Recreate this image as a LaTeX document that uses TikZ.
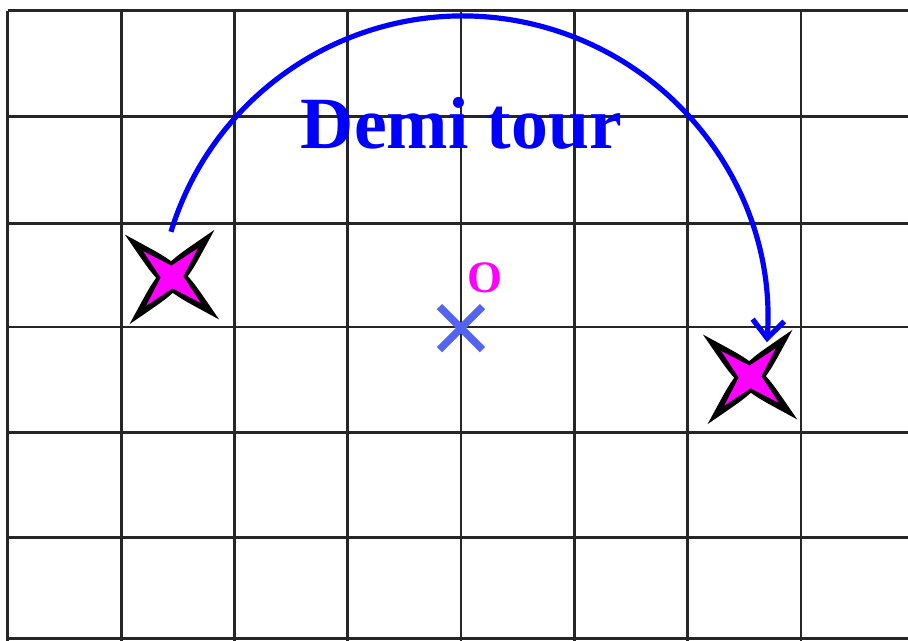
\documentclass[tikz,border=0pt]{standalone}
\usepackage{fontspec}
\setmainfont{Liberation Serif}
\usepackage{xcolor}
\usepackage{tikz}
\usetikzlibrary{arrows.meta}
\definecolor{bleuX}{RGB}{85,100,240}
\definecolor{rose}{RGB}{255,0,255}

\begin{document}
\begin{tikzpicture}[
        grille/.style={line width=0.7pt, black!85},
        fleche/.style={-{Straight Barb[length=1.6mm,width=2.8mm]}, line width=1.3pt, blue},
        croix/.style={line width=1.9pt, bleuX},
        titre/.style={font=\fontsize{18.5}{20}\selectfont\bfseries, text=blue, inner sep=0pt},
        lettre/.style={font=\fontsize{11.3}{12}\selectfont\bfseries, text=rose, inner sep=0pt},
        etoile/.pic={
            \fill[black, rotate=3] (45:0.56) .. controls (22:0.22) .. (0:0.14)
                .. controls (-22:0.22) .. (-45:0.56) .. controls (-68:0.22) .. (-90:0.14)
                .. controls (-112:0.22) .. (-135:0.56) .. controls (-158:0.22) .. (180:0.14)
                .. controls (158:0.22) .. (135:0.56) .. controls (112:0.22) .. (90:0.14)
                .. controls (68:0.22) .. cycle;
            \fill[rose, rotate=3] (45:0.34) -- (0:0.1) -- (-45:0.34) -- (-90:0.1)
                -- (-135:0.34) -- (180:0.1) -- (135:0.34) -- (90:0.1) -- cycle;
        },
    ]
    \fill[white] (-4.069,-2.763) rectangle (3.945,2.886);
    \useasboundingbox (-4.069,-2.763) rectangle (3.945,2.886);

    % quadrillage
    \foreach \x in {-4,...,3}
        \draw[grille] (\x,-2.8) -- (\x,2.79);
    \foreach \y in {2.79,1.86,0.91,0,-0.93,-1.86,-2.75}
        \draw[grille] (-4,\y) -- (4,\y);

    % centre et figures
    \coordinate (O) at (0,-0.01);
    \coordinate (A) at (-2.551,0.441);
    \coordinate (B) at (2.551,-0.441);
    \coordinate (depart) at (-2.56,0.84);

    \pic at (A) {etoile};
    \pic at (B) {etoile};

    \draw[croix] (O) +(-0.19,-0.19) -- +(0.19,0.19)
                 (O) +(-0.19,0.19) -- +(0.19,-0.19);
    \node[lettre] (nomO) at (0.216,0.437) {O};

    \draw[fleche] (depart) arc[start angle=163, end angle=-4, radius=2.692];
    \node[titre, anchor=base] (demi) at (0.004,1.571) {Demi tour};
\end{tikzpicture}
\end{document}
